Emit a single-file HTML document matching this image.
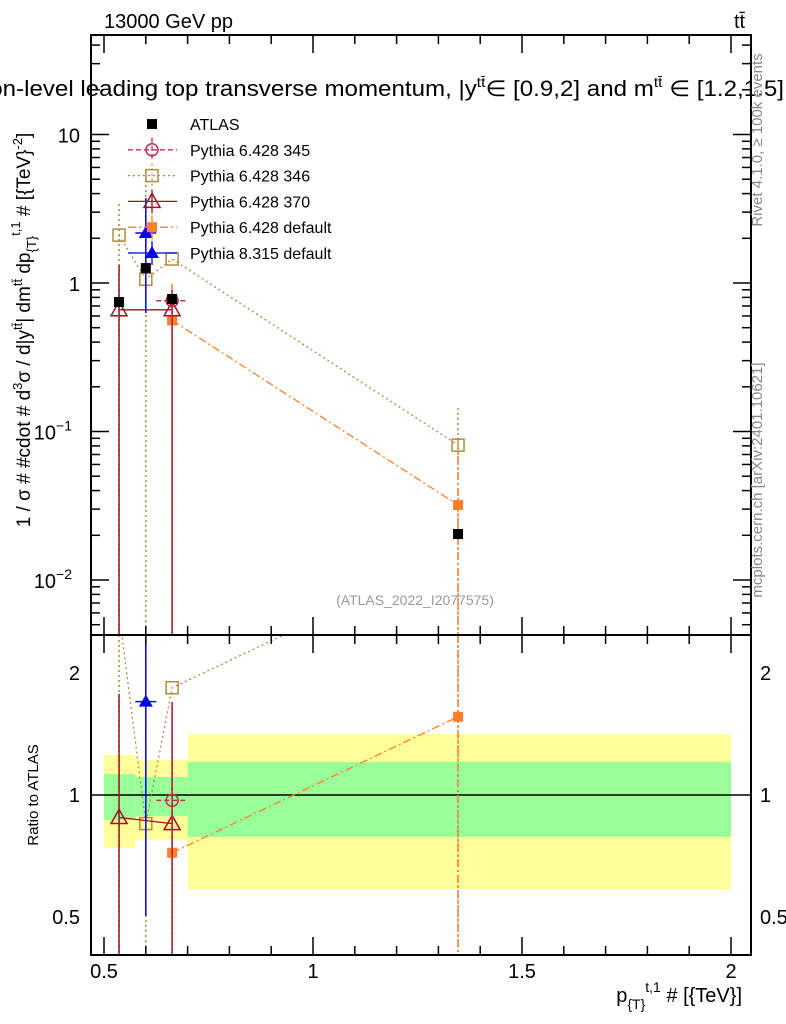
<!DOCTYPE html>
<html><head><meta charset="utf-8"><style>
body{margin:0;background:#fff;width:786px;height:1024px;overflow:hidden;font-family:"Liberation Sans",sans-serif}
svg{position:absolute;left:0;top:0}
</style></head><body>
<svg id="c" width="786" height="1024" viewBox="0 0 786 1024" font-family="Liberation Sans, DejaVu Sans, sans-serif">
<defs><clipPath id="ct"><rect x="91" y="35" width="660" height="600"/></clipPath><clipPath id="cr"><rect x="91" y="635" width="660" height="320"/></clipPath></defs>
<g id="bands" clip-path="url(#cr)"></g>
<g id="marks"></g>
<rect x="91" y="35" width="660" height="600" fill="none" stroke="#000" stroke-width="2"/>
<rect x="91" y="635" width="660" height="320" fill="none" stroke="#000" stroke-width="2"/>
<g id="axes"></g>
<text x="104" y="28" font-size="20">13000 GeV pp</text>
<text x="734" y="28" font-size="20">tt̄</text>
<text x="-55" y="96" font-size="22" textLength="839" lengthAdjust="spacingAndGlyphs">Parton-level leading top transverse momentum, |y<tspan dy="-9" font-size="14">tt̄</tspan><tspan dy="9">∈ [0.9,2] and m</tspan><tspan dy="-9" font-size="14">tt̄</tspan><tspan dy="9"> ∈ [1.2,1.5]</tspan></text>
<text x="415" y="605" font-size="14" fill="#999" text-anchor="middle">(ATLAS_2022_I2077575)</text>
<text transform="translate(762,140) rotate(-90)" font-size="15" fill="#888" text-anchor="middle">Rivet 4.1.0, ≥ 100k events</text>
<text transform="translate(762,480) rotate(-90)" font-size="15" fill="#888" text-anchor="middle">mcplots.cern.ch [arXiv:2401.10621]</text>
<text transform="translate(30,330) rotate(-90)" font-size="19" text-anchor="middle">1 / σ # #cdot # d<tspan dy="-8" font-size="13">3</tspan><tspan dy="8">σ / d|y</tspan><tspan dy="-8" font-size="13">tt̄</tspan><tspan dy="8">| dm</tspan><tspan dy="-8" font-size="13">tt̄</tspan><tspan dy="8"> dp</tspan><tspan dy="6" font-size="13">{T}</tspan><tspan dy="-16" font-size="13">t,1</tspan><tspan dy="10"> # [{TeV}</tspan><tspan dy="-8" font-size="13">-2</tspan><tspan dy="8">]</tspan></text>
<text transform="translate(38,795) rotate(-90)" font-size="15" text-anchor="middle">Ratio to ATLAS</text>
<text x="742" y="1002" font-size="20" text-anchor="end">p<tspan dy="7" font-size="14">{T}</tspan><tspan dy="-17" font-size="14">t,1</tspan><tspan dy="10"> # [{TeV}]</tspan></text>
<g id="legend"></g>
</svg>
<script>
const binLo=[0.5,0.575,0.625,0.7];
const binHi=[0.575,0.625,0.7,2.0];
const xc=[0.536,0.6,0.663,1.347];
const atlas=[0.745,1.26,0.78,0.0204];
const yellowHi=[1.255,1.22,1.22,1.414];
const yellowLo=[0.74,0.774,0.774,0.586];
const greenHi=[1.127,1.108,1.108,1.206];
const greenLo=[0.868,0.887,0.887,0.788];
const s345x=[0.663], s345=[0.76], s345r=[0.97];
const s346x=[0.536,0.6,0.663,1.347], s346=[2.1,1.06,1.45,0.081], s346r=[2.82,0.85,1.84,3.97];
const s370x=[0.536,0.663], s370=[0.66,0.66], s370r=[0.88,0.85];
const s6dx=[0.663,1.347], s6d=[0.56,0.032], s6dr=[0.72,1.56];
const s8x=[0.6], s8=[2.17], s8r=[1.70];
const yTicks=[10,1,0.1,0.01];
const yTickLabels=["10","1","10","10"];
const yTickExp=["","","−1","−2"];
const rTicks=[2,1,0.5], rTickLabels=["2","1","0.5"];
const xTicks=[0.5,1,1.5,2], xTickLabels=["0.5","1","1.5","2"];

const NS="http://www.w3.org/2000/svg";
const X=v=>104+(v-0.5)*418;
const Y=v=>283-Math.log10(v)*148.5;
const R=v=>795-Math.log10(v)*405;
function el(p,t,a){const e=document.createElementNS(NS,t);for(const k in a)e.setAttribute(k,a[k]);p.appendChild(e);return e;}
const bands=document.getElementById('bands'),marks=document.getElementById('marks'),axes=document.getElementById('axes'),leg=document.getElementById('legend');
const gt=el(marks,'g',{'clip-path':'url(#ct)'}),gr=el(marks,'g',{'clip-path':'url(#cr)'});

for(let i=0;i<binLo.length;i++){
 let b=el(bands,'rect',{x:X(binLo[i]),y:R(yellowHi[i]),width:X(binHi[i])-X(binLo[i]),height:R(yellowLo[i])-R(yellowHi[i]),fill:'#ffff99'});
 
 
 let g=el(bands,'rect',{x:X(binLo[i]),y:R(greenHi[i]),width:X(binHi[i])-X(binLo[i]),height:R(greenLo[i])-R(greenHi[i]),fill:'#99ff99'});
 
 
}
el(bands,'line',{x1:91,x2:751,y1:R(1),y2:R(1),stroke:'#000','stroke-width':1.5});

function marker(p,shape,x,y,col,name){
 let m;
 if(shape==='sqf')m=el(p,'rect',{x:x-5,y:y-5,width:10,height:10,fill:col});
 else if(shape==='sqo')m=el(p,'rect',{x:x-6,y:y-6,width:12,height:12,fill:'none',stroke:col,'stroke-width':1.5});
 else if(shape==='circ')m=el(p,'circle',{cx:x,cy:y,r:6,fill:'none',stroke:col,'stroke-width':1.5});
 else if(shape==='trio')m=el(p,'path',{d:`M${x} ${y-8}L${x+8} ${y+6}L${x-8} ${y+6}Z`,fill:'none',stroke:col,'stroke-width':1.5});
 else m=el(p,'path',{d:`M${x} ${y-7}L${x+7} ${y+5}L${x-7} ${y+5}Z`,fill:col});
 
 
}
function series(xs,ys,rs,col,dash,shape,name,errs){
 const pts=xs.map((x,i)=>X(x)+','+Y(ys[i])).join(' ');
 el(gt,'polyline',{points:pts,fill:'none',stroke:col,'stroke-width':1.3,'stroke-dasharray':dash});
 el(gr,'polyline',{points:xs.map((x,i)=>X(x)+','+R(rs[i])).join(' '),fill:'none',stroke:col,'stroke-width':1.3,'stroke-dasharray':dash});
 xs.forEach((x,i)=>{
  if(errs&&errs[i]){el(gt,'line',{x1:X(x),x2:X(x),y1:errs[i][0],y2:errs[i][1],stroke:col,'stroke-width':1.5,'stroke-dasharray':dash});
   el(gr,'line',{x1:X(x),x2:X(x),y1:errs[i][2],y2:errs[i][3],stroke:col,'stroke-width':1.5,'stroke-dasharray':dash});}
  marker(gt,shape,X(x),Y(ys[i]),col,name+'-point');
  marker(gr,shape,X(x),R(rs[i]),col,name+'-ratio-point');
 });
}
series(s346x,s346,s346r,'#b08a40','2,3','sqo','pythia6-346',[[204,640,635,955],[180,640,635,955],null,[408,640,635,955]]);
series(s6dx,s6d,s6dr,'#ff7f2a','8,3,2,3','sqf','pythia6-default',[[284,640,740,955],[440,640,635,955]]);
series(s370x,s370,s370r,'#a01020','','trio','pythia6-370',[[265,640,694,955],[290,640,702,955]]);
series(s345x,s345,s345r,'#c03050','5,3','circ','pythia6-345',[[290,640,702,955]]);
el(gt,'line',{x1:X(0.625),x2:X(0.7),y1:Y(0.76),y2:Y(0.76),stroke:'#c03050','stroke-dasharray':'5,3','stroke-width':1.5});
el(gr,'line',{x1:X(0.625),x2:X(0.7),y1:R(0.97),y2:R(0.97),stroke:'#c03050','stroke-dasharray':'5,3','stroke-width':1.5});
series(s8x,s8,s8r,'#0000ee','','trif','pythia8-default',[[198,313,635,916]]);
el(gt,'line',{x1:X(0.575),x2:X(0.625),y1:Y(2.17),y2:Y(2.17),stroke:'#0000ee','stroke-width':1.5});
el(gr,'line',{x1:X(0.575),x2:X(0.625),y1:R(1.70),y2:R(1.70),stroke:'#0000ee','stroke-width':1.5});
xc.forEach((x,i)=>marker(gt,'sqf',X(x),Y(atlas[i]),'#000','atlas-point'));

function tk(x1,y1,x2,y2){el(axes,'line',{x1,y1,x2,y2,stroke:'#000','stroke-width':1.5});}
for(let d=-3;d<=1;d++)for(let m=1;m<10;m++){const v=m*Math.pow(10,d);const y=Y(v);if(y<35||y>635)continue;const L=m===1?18:9;tk(91,y,91+L,y);tk(751,y,751-L,y);}
yTicks.forEach((v,i)=>{const t=el(axes,'text',{x:80,y:Y(v)+8,'font-size':20,'text-anchor':'end'});t.textContent=yTickLabels[i];
 if(yTickExp[i]){const s=el(t,'tspan',{dy:-9,'font-size':14});s.textContent=yTickExp[i];t.setAttribute('x',72);}
 
 });
[0.4,0.5,0.6,0.7,0.8,0.9,1,1.1,1.2,1.3,1.4,1.5,1.6,1.7,1.8,1.9,2,2.2,2.4].forEach(v=>{const y=R(v);if(y<636&&y>954){const L=(v===0.5||v===1||v===2)?18:9;tk(91,y,91+L,y);tk(751,y,751-L,y);}});
rTicks.forEach((v,i)=>{[80,760].forEach(x=>{const t=el(axes,'text',{x,y:R(v)+7,'font-size':20,'text-anchor':x<100?'end':'start'});t.textContent=rTickLabels[i];
 
 });});
for(let v=0.5;v<=2.001;v+=0.1){const x=X(v);const maj=Math.abs(v*2-Math.round(v*2))<1e-6;const L=maj?18:9;tk(x,955,x,955-L);tk(x,635,x,635-L);tk(x,35,x,35+L);tk(x,635,x,635+L);}
xTicks.forEach((v,i)=>{const t=el(axes,'text',{x:X(v),y:978,'font-size':20,'text-anchor':'middle'});t.textContent=xTickLabels[i];
 
 });

const legNames=["ATLAS","Pythia 6.428 345","Pythia 6.428 346","Pythia 6.428 370","Pythia 6.428 default","Pythia 8.315 default"];
const legShape=['sqf','circ','sqo','trio','sqf','trif'],legCol=['#000','#c03050','#b08a40','#a01020','#ff7f2a','#0000ee'],legDash=['','5,3','2,3','','8,3,2,3',''];
legNames.forEach((n,i)=>{const y=124+i*25.8;const g=el(leg,'g',{});
 
 
 if(i>0)el(g,'line',{x1:128,x2:177,y1:y,y2:y,stroke:legCol[i],'stroke-width':1.3,'stroke-dasharray':legDash[i]});
 if(i>0)el(g,'line',{x1:152,x2:152,y1:y-12,y2:y+12,stroke:legCol[i],'stroke-width':1.3,'stroke-dasharray':legDash[i]});
 marker(g,legShape[i],152,y,legCol[i],'legend-marker');
 const t=el(g,'text',{x:190,y:y+6,'font-size':16});t.textContent=n;});
</script>
</body></html>
